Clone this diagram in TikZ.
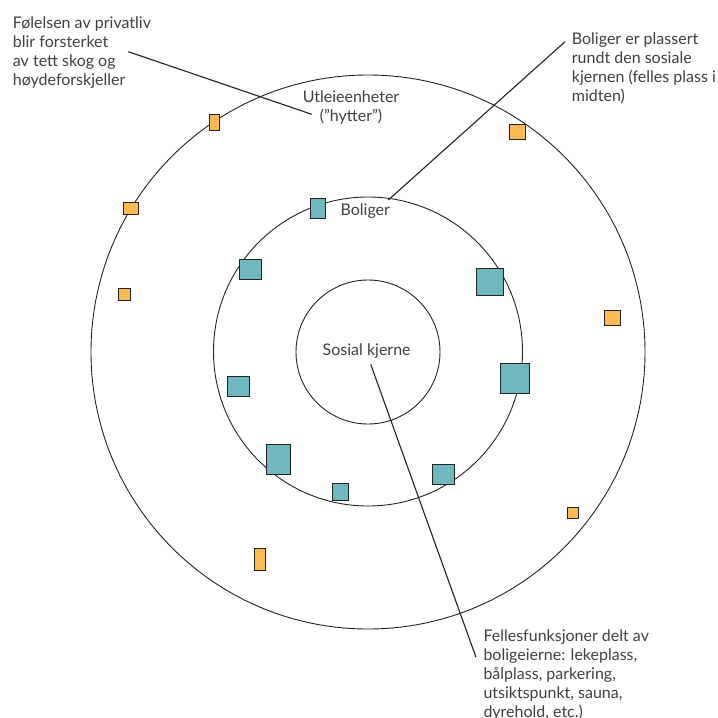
\documentclass[tikz,border=0pt]{standalone}
\usepackage{fontspec}
\setmainfont{Lato}
\definecolor{teal1}{HTML}{70B8C0}
\definecolor{orange1}{HTML}{FDB952}
\definecolor{edge}{HTML}{222222}
\definecolor{txt}{HTML}{404040}
\begin{document}
\begin{tikzpicture}[x=1pt,y=-1pt,
  ring/.style={draw=edge,line width=0.9pt,circle,inner sep=0pt},
  house/.style={draw=edge,line width=1pt,fill=teal1,inner sep=0pt,rectangle},
  cabin/.style={draw=edge,line width=1pt,fill=orange1,inner sep=0pt,rectangle},
  lbl/.style={text=txt,font=\fontsize{16}{19}\selectfont,inner sep=0pt},
  note/.style={lbl,align=left,anchor=base west},
  leader/.style={draw=edge,line width=1.1pt}]
\useasboundingbox (0,0) rectangle (718,718);
\fill[white] (0,0) rectangle (718,718);
% circles
\node[ring,minimum size=554pt] (outer) at (368,352) {};
\node[ring,minimum size=309pt] (mid) at (368,351.5) {};
\node[ring,minimum size=144pt] (core) at (368,352) {};
% labels (base anchor = baseline of last line)
\node[lbl,align=center,anchor=base] (utl) at (351,121) {Utleieenheter\\(”hytter”)};
\node[lbl,anchor=base] (bol) at (365.3,215) {Boliger};
\node[lbl,anchor=base] (sos) at (366.7,355) {Sosial kjerne};
% houses
\node[house,minimum width=14.7pt,minimum height=20pt] (h1) at (318.3,208.3) {};
\node[house,minimum width=22pt,minimum height=20pt] (h2) at (250.7,269) {};
\node[house,minimum width=26.7pt,minimum height=27.3pt] (h3) at (490.3,282) {};
\node[house,minimum width=22.3pt,minimum height=19.7pt] (h4) at (238.5,386.2) {};
\node[house,minimum width=28.7pt,minimum height=30.3pt] (h5) at (515.3,378.2) {};
\node[house,minimum width=24.3pt,minimum height=30pt] (h6) at (278.5,459.3) {};
\node[house,minimum width=16.3pt,minimum height=17.3pt] (h7) at (340.5,492) {};
\node[house,minimum width=22.3pt,minimum height=20.3pt] (h8) at (443.5,474.8) {};
% cabins
\node[cabin,minimum width=10.3pt,minimum height=15.7pt] (c1) at (214.2,122.5) {};
\node[cabin,minimum width=15.7pt,minimum height=15.3pt] (c2) at (517.2,131.7) {};
\node[cabin,minimum width=15.3pt,minimum height=11.7pt] (c3) at (130.7,208.5) {};
\node[cabin,minimum width=12pt,minimum height=11.7pt] (c4) at (124,294.8) {};
\node[cabin,minimum width=15.7pt,minimum height=15pt] (c5) at (612.8,317.5) {};
\node[cabin,minimum width=10.7pt,minimum height=11.3pt] (c6) at (572.7,512.7) {};
\node[cabin,minimum width=10.7pt,minimum height=22pt] (c7) at (260,559.7) {};
% notes (base anchor = baseline of last line)
\node[note] (n1) at (12.7,85) {Følelsen av privatliv\\blir forsterket\\av tett skog og\\høydeforskjeller};
\node[note] (n2) at (571.7,101) {Boliger er plassert\\rundt den sosiale\\kjernen (felles plass i\\midten)};
\node[note] (n3) at (483.3,717.7) {Fellesfunksjoner delt av\\boligeierne: lekeplass,\\bålplass, parkering,\\utsiktspunkt, sauna,\\dyrehold, etc.)};
% leader lines
\coordinate (a1) at (128.3,51.7);
\coordinate (b1) at (311.7,114.3);
\coordinate (a2) at (565,41.7);
\coordinate (b2) at (388.3,200);
\coordinate (a3) at (370.7,364.3);
\coordinate (b3) at (476,657.3);
\draw[leader] (a1) -- (b1);
\draw[leader] (a2) -- (b2);
\draw[leader] (a3) -- (b3);
\end{tikzpicture}
\end{document}
